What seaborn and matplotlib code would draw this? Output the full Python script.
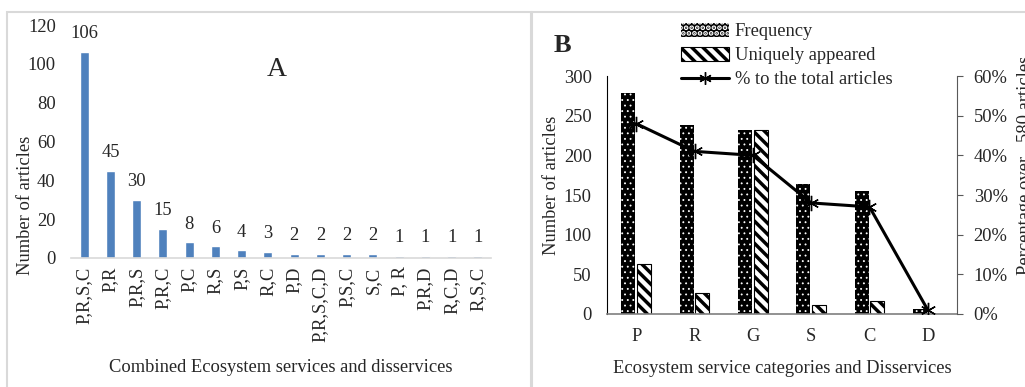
"""
Two-panel figure: (A) combined ecosystem services per article,
(B) frequency of each service category with % of total articles.
"""

import matplotlib.pyplot as plt
import numpy as np
import pandas as pd
import seaborn as sns
from matplotlib.patches import Rectangle
from matplotlib.lines import Line2D
from matplotlib.ticker import PercentFormatter

sns.set_style('white')
plt.rcParams['font.family'] = ['Liberation Serif', 'DejaVu Serif']
plt.rcParams['hatch.linewidth'] = 2.5

# panel A data
combo_labels = ['P,R,S,C', 'P,R', 'P,R,S', 'P,R,C', 'P,C', 'R,S', 'P,S', 'R,C',
                'P,D', 'P,R,S,C,D', 'P,S,C', 'S,C', 'P, R', 'P,R,D', 'R,C,D', 'R,S,C']
combo_counts = [106, 45, 30, 15, 8, 6, 4, 3, 2, 2, 2, 2, 1, 1, 1, 1]

# panel B data
categories = ['P', 'R', 'G', 'S', 'C', 'D']
frequency = [278, 238, 232, 164, 155, 6]
unique = [63, 26, 232, 11, 16, 0]
pct_total = [48, 41, 40, 28, 27, 1]

FS = 13.3
BLUE = '#4f81bd'
DOTS = '...'
STRIPES = '\\\\\\'


def style_freq(p):
    p.set_facecolor('black')
    p.set_edgecolor('white')
    p.set_hatch(DOTS)
    p.set_linewidth(0)
    # thinner hatch outline -> small dots (the stripes keep the thick rc value)
    if hasattr(p, 'set_hatch_linewidth'):
        p.set_hatch_linewidth(0.6)
    p._hatch_linewidth = 0.6


def style_unique(p):
    p.set_facecolor('white')
    p.set_edgecolor('black')
    p.set_hatch(STRIPES)
    p.set_linewidth(0.8)


fig = plt.figure(figsize=(10.25, 3.87), dpi=100)

# light grey panel frames
for x0, x1 in [(7, 531), (532, 1030)]:
    fig.patches.append(Rectangle((x0 / 1025, -0.01), (x1 - x0) / 1025, 1 - 12 / 387 + 0.01,
                                 transform=fig.transFigure, fill=False,
                                 edgecolor='#d9d9d9', linewidth=1.5))

# ---------------- Panel A ----------------
axA = fig.add_axes([71 / 1025, 1 - 258 / 387, 420 / 1025, 233 / 387])
dfA = pd.DataFrame({'combo': combo_labels, 'count': combo_counts})
sns.barplot(data=dfA, x='combo', y='count', color=BLUE, width=0.34,
            saturation=1, ax=axA)
axA.bar_label(axA.containers[0], padding=7, fontsize=FS)
axA.set_ylim(0, 120)
axA.set_yticks(np.arange(0, 121, 20))
for s in ['top', 'right', 'left']:
    axA.spines[s].set_visible(False)
axA.spines['bottom'].set_color('#d9d9d9')
axA.spines['bottom'].set_linewidth(1.2)
axA.tick_params(axis='y', length=0, pad=11, labelsize=FS)
axA.tick_params(axis='x', length=0, pad=6, labelsize=FS, labelrotation=90)
axA.set_ylabel('Number of articles', fontsize=FS)
axA.yaxis.set_label_coords(-0.088, 0.227)
axA.set_xlabel('Combined Ecosystem services and disservices', fontsize=FS)
axA.xaxis.set_label_coords(0.5, -0.433)
axA.text(0.49, 0.81, 'A', transform=axA.transAxes, fontsize=20,
         ha='center', va='center')

# ---------------- Panel B ----------------
axB = fig.add_axes([607 / 1025, 1 - 314 / 387, 350 / 1025, 238 / 387])
dfB = pd.DataFrame({
    'category': categories * 2,
    'count': frequency + unique,
    'kind': ['Frequency'] * len(categories) + ['Uniquely appeared'] * len(categories),
})
sns.barplot(data=dfB, x='category', y='count', hue='kind',
            palette=['black', 'white'], width=0.53, gap=0.1,
            saturation=1, legend=False, ax=axB)
for bar in axB.containers[0]:
    style_freq(bar)
for bar in axB.containers[1]:
    style_unique(bar)

axB.set_ylim(0, 300)
axB.set_yticks(np.arange(0, 301, 50))
axB.spines['top'].set_visible(False)
axB.spines['right'].set_visible(False)
axB.spines['left'].set_color('black')
axB.spines['bottom'].set_color('#7f7f7f')
axB.spines['bottom'].set_linewidth(1.2)
axB.tick_params(axis='y', length=0, pad=11, labelsize=FS)
axB.tick_params(axis='x', length=0, pad=10, labelsize=FS)
axB.set_ylabel('Number of articles', fontsize=FS)
axB.yaxis.set_label_coords(-0.134, 0.54)
axB.set_xlabel('Ecosystem service categories and Disservices', fontsize=FS)
axB.xaxis.set_label_coords(0.5, -0.193)

axB2 = axB.twinx()
sns.pointplot(x=categories, y=pct_total, color='black', errorbar=None,
              markers='x', linestyles='-', ax=axB2)
for ln in axB2.lines:
    ln.set_marker((6, 2, 0))
    ln.set_markersize(11)
    ln.set_markeredgewidth(1.0)
    ln.set_linewidth(2.2)
axB2.set_ylim(0, 60)
axB2.set_yticks(np.arange(0, 61, 10))
axB2.yaxis.set_major_formatter(PercentFormatter(100, decimals=0))
for s in ['top', 'left', 'bottom']:
    axB2.spines[s].set_visible(False)
axB2.spines['right'].set_color('#595959')
axB2.tick_params(axis='y', length=4, pad=8, labelsize=FS, color='#595959')
axB2.set_ylabel('Percentage over   580 articles', fontsize=FS)
axB2.yaxis.set_label_coords(1.172, 0.626)

fig.text(562 / 1025, 1 - 46 / 387, 'B', fontsize=19, fontweight='bold',
         ha='center', va='center')

freq_handle = Rectangle((0, 0), 1, 1)
style_freq(freq_handle)
unique_handle = Rectangle((0, 0), 1, 1)
style_unique(unique_handle)
line_handle = Line2D([], [], color='black', linewidth=2.2, marker=(6, 2, 0),
                     markersize=9, markeredgewidth=1.0)
fig.legend([freq_handle, unique_handle, line_handle],
           ['Frequency', 'Uniquely appeared', '% to the total articles'],
           loc='upper left', bbox_to_anchor=(681 / 1025, 1 - 23 / 387),
           frameon=False, fontsize=FS, handlelength=2.6, handleheight=0.8,
           labelspacing=0.35, borderpad=0, borderaxespad=0, handletextpad=0.3)

fig.savefig('out.png', dpi=100)
